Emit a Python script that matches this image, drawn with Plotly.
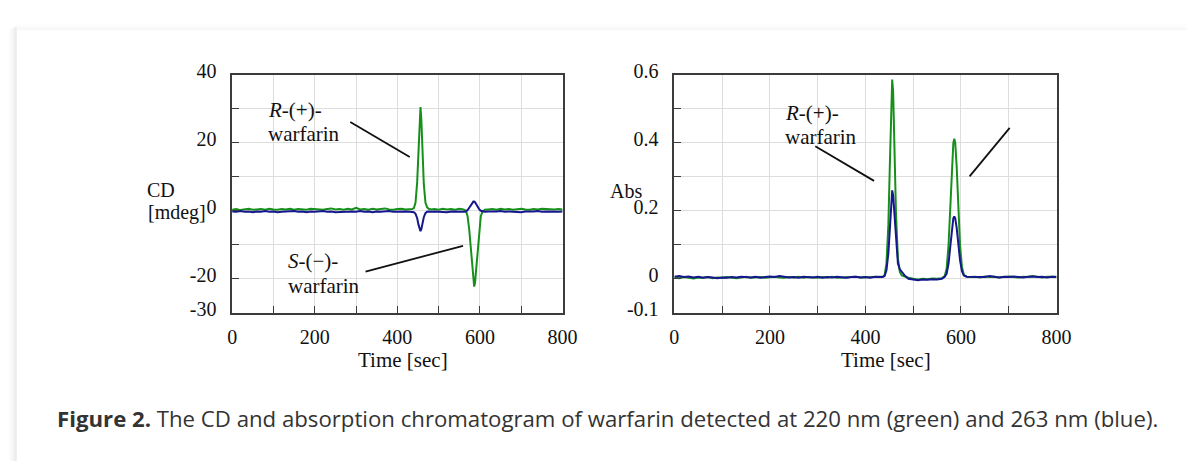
import plotly.graph_objects as go

W, H = 1202, 468

# ---------------- data ----------------
# time segments (s)
t_pre = [0, 10, 20, 30, 40, 50, 60, 70, 80, 90,
         100, 110, 120, 130, 140, 150, 160, 170, 180, 190,
         200, 210, 220, 230, 240, 250, 260, 270, 280, 290,
         300, 310, 320, 330, 340, 350, 360, 370, 380, 390,
         400, 410, 420, 430]
t_pk1 = [436, 440, 444, 448, 451, 454, 456, 458, 461, 464, 468, 472, 476, 482]
t_mid = [490, 500, 510, 520, 530, 540, 550, 560]
t_pk2 = [566, 570, 574, 578, 581, 584, 586, 588, 591, 594, 598, 602, 606, 612]
t_post = [620, 630, 640, 650, 660, 670, 680, 690, 700, 710,
          720, 730, 740, 750, 760, 770, 780, 790, 800]

# CD, 220 nm (green)
cd_g_pre = [0.3, 0.5, 0.2, 0.4, 0.6, 0.3, 0.4, 0.5, 0.3, 0.6,
            0.4, 0.3, 0.5, 0.4, 0.6, 0.3, 0.5, 0.4, 0.3, 0.6,
            0.5, 0.4, 0.3, 0.5, 0.7, 0.4, 0.5, 0.3, 0.6, 0.4,
            0.9, 0.4, 0.5, 0.3, 0.6, 0.4, 0.5, 0.7, 0.4, 0.3,
            0.5, 0.6, 0.4, 0.5]
cd_g_pk1 = [0.5, 0.8, 2.4, 8.5, 17.5, 27.5, 30.5, 27.0, 17.0, 8.0, 2.4, 1.0, 0.6, 0.4]
cd_g_mid = [0.5, 0.3, 0.6, 0.4, 0.5, 0.3, 0.6, 0.4]
cd_g_pk2 = [0.0, -1.6, -5.5, -12.0, -17.0, -21.5, -22.3, -21.2, -17.0, -11.0, -4.8, -1.6, -0.3, 0.3]
cd_g_post = [0.4, 0.5, 0.3, 0.6, 0.4, 0.5, 0.3, 0.5, 0.6, 0.4,
             0.3, 0.5, 0.4, 0.6, 0.5, 0.3, 0.4, 0.5, 0.4]

# CD, 263 nm (blue)
cd_b_pre = [-0.2, -0.3, -0.1, -0.3, -0.2, -0.4, -0.2, -0.3, -0.1, -0.3,
            -0.2, -0.4, -0.3, -0.2, -0.3, -0.1, -0.3, -0.2, -0.4, -0.2,
            -0.3, -0.2, -0.1, -0.3, -0.2, -0.4, -0.3, -0.2, -0.3, -0.2,
            -0.3, -0.1, -0.3, -0.2, -0.4, -0.2, -0.3, -0.2, -0.1, -0.3,
            -0.2, -0.3, -0.2, -0.3]
cd_b_pk1 = [-0.3, -0.4, -0.9, -2.2, -4.0, -5.7, -6.0, -5.4, -3.6, -1.9, -0.7, -0.3, -0.2, -0.3]
cd_b_mid = [-0.2, -0.3, -0.2, -0.4, -0.2, -0.3, -0.2, -0.3]
cd_b_pk2 = [-0.2, 0.2, 0.9, 1.8, 2.4, 2.7, 2.7, 2.5, 1.9, 1.2, 0.5, 0.0, -0.2, -0.3]
cd_b_post = [-0.2, -0.3, -0.2, -0.1, -0.3, -0.2, -0.3, -0.2, -0.4, -0.2,
             -0.3, -0.2, -0.1, -0.3, -0.2, -0.3, -0.2, -0.3, -0.2]

# Abs, 220 nm (green)
ab_g_pre = [0.004, 0.002, 0.005, 0.003, 0.001, 0.004, 0.003, 0.005, 0.002, 0.004,
            0.003, 0.005, 0.004, 0.002, 0.004, 0.006, 0.003, 0.004, 0.005, 0.003,
            0.004, 0.006, 0.004, 0.003, 0.005, 0.004, 0.006, 0.003, 0.005, 0.004,
            0.003, 0.005, 0.004, 0.006, 0.003, 0.004, 0.005, 0.004, 0.006, 0.004,
            0.005, 0.004, 0.005, 0.006]
ab_g_pk1 = [0.006, 0.010, 0.045, 0.16, 0.33, 0.53, 0.586, 0.55, 0.38, 0.19, 0.06, 0.02, 0.010, 0.006]
ab_g_mid = [0.003, 0.000, -0.002, 0.000, -0.001, 0.001, 0.000, 0.002]
ab_g_pk2 = [0.008, 0.03, 0.10, 0.22, 0.33, 0.40, 0.412, 0.40, 0.33, 0.22, 0.10, 0.035, 0.012, 0.006]
ab_g_post = [0.005, 0.006, 0.004, 0.007, 0.005, 0.006, 0.004, 0.005, 0.007, 0.005,
             0.004, 0.006, 0.005, 0.008, 0.005, 0.004, 0.006, 0.005, 0.006]

# Abs, 263 nm (blue)
ab_b_pre = [0.006, 0.008, 0.005, 0.007, 0.004, 0.006, 0.003, 0.005, 0.004, 0.002,
            0.004, 0.003, 0.005, 0.004, 0.006, 0.005, 0.004, 0.006, 0.003, 0.005,
            0.007, 0.005, 0.008, 0.006, 0.004, 0.005, 0.003, 0.006, 0.005, 0.004,
            0.006, 0.003, 0.005, 0.004, 0.006, 0.005, 0.003, 0.005, 0.006, 0.004,
            0.005, 0.003, 0.006, 0.005]
ab_b_pk1 = [0.005, 0.008, 0.025, 0.075, 0.15, 0.235, 0.26, 0.245, 0.18, 0.10, 0.045, 0.028, 0.020, 0.010]
ab_b_mid = [0.000, -0.003, -0.004, -0.002, -0.003, -0.001, -0.002, 0.000]
ab_b_pk2 = [0.006, 0.015, 0.045, 0.10, 0.145, 0.178, 0.183, 0.178, 0.15, 0.105, 0.055, 0.022, 0.010, 0.006]
ab_b_post = [0.006, 0.005, 0.007, 0.005, 0.008, 0.006, 0.004, 0.006, 0.005, 0.007,
             0.006, 0.004, 0.006, 0.007, 0.005, 0.006, 0.004, 0.006, 0.005]

x_ticks = [0, 100, 200, 300, 400, 500, 600, 700, 800]
x_text = ["0", "", "200", "", "400", "", "600", "", "800"]
cd_ticks = [-30, -20, -10, 0, 10, 20, 30, 40]
cd_text = ["-30", "-20", "", "0", "", "20", "", "40"]
ab_ticks = [-0.1, 0, 0.1, 0.2, 0.3, 0.4, 0.5, 0.6]
ab_text = ["-0.1", "0", "", "0.2", "", "0.4", "", "0.6"]

caption = "<b>Figure 2.</b> The CD and absorption chromatogram of warfarin detected at 220 nm (green) and 263 nm (blue)."

# ---------------- build ----------------
t_all = t_pre + t_pk1 + t_mid + t_pk2 + t_post
cd_green = cd_g_pre + cd_g_pk1 + cd_g_mid + cd_g_pk2 + cd_g_post
cd_blue = cd_b_pre + cd_b_pk1 + cd_b_mid + cd_b_pk2 + cd_b_post
ab_green = ab_g_pre + ab_g_pk1 + ab_g_mid + ab_g_pk2 + ab_g_post
ab_blue = ab_b_pre + ab_b_pk1 + ab_b_mid + ab_b_pk2 + ab_b_post

GREEN = "#16901a"
BLUE = "#16168e"
SERIF = "Liberation Serif, Times New Roman, serif"

fig = go.Figure()
fig.add_trace(go.Scatter(x=t_all, y=cd_green, mode="lines", line=dict(color=GREEN, width=2), xaxis="x", yaxis="y"))
fig.add_trace(go.Scatter(x=t_all, y=cd_blue, mode="lines", line=dict(color=BLUE, width=2), xaxis="x", yaxis="y"))
fig.add_trace(go.Scatter(x=t_all, y=ab_green, mode="lines", line=dict(color=GREEN, width=2), xaxis="x2", yaxis="y2"))
fig.add_trace(go.Scatter(x=t_all, y=ab_blue, mode="lines", line=dict(color=BLUE, width=2), xaxis="x2", yaxis="y2"))

def px_x(p):
    return p / W

def px_y(p):
    return 1 - p / H

axis_common = dict(
    showline=True, linecolor="#3c3c3c", linewidth=1.5, mirror=True,
    ticks="inside", tickcolor="#3c3c3c", ticklen=7, tickwidth=1.2,
    showgrid=True, gridcolor="#dddddd", gridwidth=1, zeroline=False,
    tickfont=dict(family=SERIF, size=20, color="#111111"),
    tickmode="array", fixedrange=True,
)

ydom = [px_y(312.5), px_y(62.7)]
fig.update_layout(
    width=W, height=H, autosize=False,
    margin=dict(l=0, r=0, t=0, b=0),
    paper_bgcolor="#ffffff", plot_bgcolor="rgba(0,0,0,0)",
    showlegend=False,
    xaxis=dict(domain=[px_x(231), px_x(567)], range=[0, 800], tickvals=x_ticks, ticktext=x_text,
               ticklabelstandoff=5, anchor="y", **axis_common),
    yaxis=dict(domain=ydom, range=[-30, 40], tickvals=cd_ticks, ticktext=cd_text,
               ticklabelstandoff=10, ticklabelshift=-4, anchor="x", **axis_common),
    xaxis2=dict(domain=[px_x(680.7), px_x(1069.3)], range=[0, 800], tickvals=x_ticks, ticktext=x_text,
                ticklabelstandoff=5, anchor="y2", **axis_common),
    yaxis2=dict(domain=ydom, range=[-0.1, 0.6], tickvals=ab_ticks, ticktext=ab_text,
                ticklabelstandoff=10, ticklabelshift=-4, anchor="x2", **axis_common),
)

# card background soft shadow
shapes = []
for i, op in enumerate([0.015, 0.03, 0.05, 0.08]):
    x0 = 4 + 2 * i
    shapes.append(dict(type="rect", xref="paper", yref="paper", x0=px_x(x0), x1=px_x(x0 + 2),
                       y0=0, y1=px_y(15 - i), fillcolor="black", opacity=op, line=dict(width=0), layer="below"))
for i, op in enumerate([0.01, 0.02, 0.03]):
    y0 = 10 + 2 * i
    shapes.append(dict(type="rect", xref="paper", yref="paper", x0=px_x(12), x1=1,
                       y0=px_y(y0 + 2), y1=px_y(y0), fillcolor="black", opacity=op, line=dict(width=0), layer="below"))

# pointer lines (data coordinates)
line_style = dict(color="#111111", width=1.8)
shapes += [
    dict(type="line", xref="x", yref="y", x0=286, y0=26.1, x1=430, y1=15.8, line=line_style),
    dict(type="line", xref="x", yref="y", x0=323, y0=-17.9, x1=559, y1=-10.3, line=line_style),
    dict(type="line", xref="x2", yref="y2", x0=295, y0=0.39, x1=418, y1=0.288, line=line_style),
    dict(type="line", xref="x2", yref="y2", x0=618, y0=0.301, x1=702, y1=0.444, line=line_style),
]
fig.update_layout(shapes=shapes)

txt_font = dict(family=SERIF, size=21, color="#111111")
ann = []
def add_text(text, x, y, xanchor="left", font=txt_font):
    ann.append(dict(text=text, xref="paper", yref="paper", x=px_x(x), y=px_y(y),
                    xanchor=xanchor, yanchor="middle", showarrow=False, font=font, borderpad=0))

small = dict(family=SERIF, size=20, color="#111111")
add_text("<i>R</i>-(+)-", 266, 100)
add_text("warfarin", 266, 125)
add_text("<i>S</i>-(\u2212)-", 287, 258)
add_text("warfarin", 287, 284)
add_text("<i>R</i>-(+)-", 792, 103)
add_text("warfarin", 792, 128)
add_text("CD", 143, 184, font=small)
add_text("[mdeg]", 205, 207, xanchor="right", font=small)
add_text("Abs", 614, 185, font=small)
add_text("Time [sec]", 405, 362, xanchor="center")
add_text("Time [sec]", 896, 362, xanchor="center")
add_text(caption, 52, 423, font=dict(family="Open Sans, sans-serif", size=22.2, color="#333333"))
fig.update_layout(annotations=ann)

fig.write_html(
    "out.html",
    config={"displayModeBar": False},
    post_script="document.body.style.margin='0px';document.body.style.padding='0px';"
                "document.documentElement.style.overflow='hidden';",
)
